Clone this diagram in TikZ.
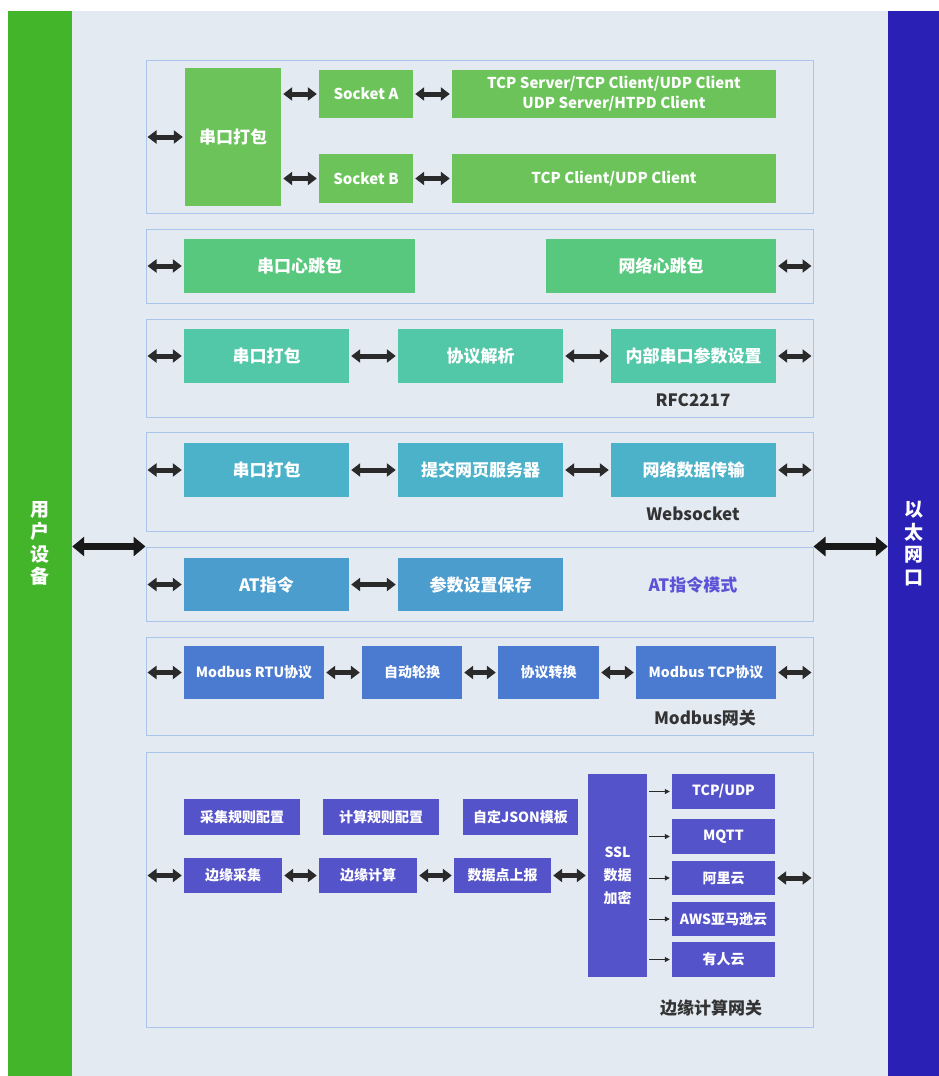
\documentclass[tikz,border=0pt]{standalone}
\usepackage{fontspec}
\setmainfont{Noto Sans CJK SC}
\usetikzlibrary{arrows.meta}
\definecolor{usergreen}{HTML}{43B52B}
\definecolor{ethblue}{HTML}{2A20B6}
\definecolor{panelbg}{HTML}{E4EAF2}
\definecolor{framec}{HTML}{AAC5EC}
\definecolor{arrowc}{HTML}{2A2A2A}
\definecolor{labelc}{HTML}{333333}
\definecolor{atmode}{HTML}{5B52D6}
\definecolor{socketc}{HTML}{6BC35A}
\definecolor{heartc}{HTML}{58C87E}
\definecolor{rfcc}{HTML}{52C8A8}
\definecolor{webc}{HTML}{4CB2C9}
\definecolor{atc}{HTML}{4B9DCE}
\definecolor{modc}{HTML}{4B7BD0}
\definecolor{edgec}{HTML}{5553C9}
\begin{document}
\begin{tikzpicture}[x=1pt,y=-1pt,
	frame/.style={draw=framec,line width=1pt,minimum width=667pt,inner sep=0pt},
	blk/.style={inner sep=0pt,text=white,font=\bfseries\fontsize{17}{20}\selectfont},
	smallblk/.style={blk,font=\bfseries\fontsize{14}{23}\selectfont},
	lbl/.style={text=labelc,font=\bfseries\fontsize{17}{20}\selectfont},
	dbl/.style={{Triangle[length=9pt,width=13pt]}-{Triangle[length=9pt,width=13pt]},line width=5pt,draw=arrowc,shorten >=2pt,shorten <=2pt},
	bigarr/.style={{Triangle[length=12pt,width=19pt]}-{Triangle[length=12pt,width=19pt]},line width=7pt,draw=black!90},
	sarr/.style={-{Triangle[length=5pt,width=5pt]},line width=1pt,draw=arrowc,shorten >=2pt,shorten <=2pt}]
	\useasboundingbox (0,0) rectangle (939,1076);
	\fill[white] (0,0) rectangle (939,1076);
	\fill[panelbg] (72,11) rectangle (888,1076);
	% side bars
	\node[fill=usergreen,minimum width=64pt,minimum height=1065pt,inner sep=0pt,text=white,align=center,font=\bfseries\fontsize{19}{22.5}\selectfont] (user) at (40,543.5) {用\\户\\设\\备};
	\node[fill=ethblue,minimum width=51pt,minimum height=1065pt,inner sep=0pt,text=white,align=center,font=\bfseries\fontsize{19}{22.5}\selectfont] (eth) at (913.5,543.5) {以\\太\\网\\口};
	% frames
	\node[frame,minimum height=153pt] (g1) at (479.5,136.5) {};
	\node[frame,minimum height=74pt] (g2) at (479.5,266) {};
	\node[frame,minimum height=98pt] (g3) at (479.5,368) {};
	\node[frame,minimum height=99pt] (g4) at (479.5,481.5) {};
	\node[frame,minimum height=74pt] (g5) at (479.5,584) {};
	\node[frame,minimum height=98pt] (g6) at (479.5,686) {};
	\node[frame,minimum height=275pt] (g7) at (479.5,889.5) {};
	% socket
	\node[blk,fill=socketc,minimum width=96pt,minimum height=138pt] (pack1) at (233,137) {串口打包};
	\node[blk,fill=socketc,minimum width=94pt,minimum height=48pt,font=\bfseries\fontsize{15}{20}\selectfont] (sockA) at (366,94) {Socket A};
	\node[blk,fill=socketc,minimum width=94pt,minimum height=49pt,font=\bfseries\fontsize{15}{20}\selectfont] (sockB) at (366,178.5) {Socket B};
	\node[blk,fill=socketc,minimum width=324pt,minimum height=48pt,align=center,font=\bfseries\fontsize{15}{20}\selectfont] (tcpA) at (614,94) {TCP Server/TCP Client/UDP Client\\UDP Server/HTPD Client};
	\node[blk,fill=socketc,minimum width=324pt,minimum height=49pt,font=\bfseries\fontsize{15}{20}\selectfont] (tcpB) at (614,178.5) {TCP Client/UDP Client};
	\draw[dbl] (g1.west |- pack1.west) -- (pack1.west);
	\draw[dbl] (pack1.east |- sockA.west) -- (sockA.west);
	\draw[dbl] (pack1.east |- sockB.west) -- (sockB.west);
	\draw[dbl] (sockA) -- (tcpA);
	\draw[dbl] (sockB) -- (tcpB);
	% heartbeat
	\node[blk,fill=heartc,minimum width=231pt,minimum height=54pt] (sheart) at (299.5,266) {串口心跳包};
	\node[blk,fill=heartc,minimum width=230pt,minimum height=54pt] (nheart) at (661,266) {网络心跳包};
	\draw[dbl] (g2.west |- sheart.west) -- (sheart.west);
	\draw[dbl] (nheart.east) -- (nheart.east -| g2.east);
	% rfc2217
	\node[blk,fill=rfcc,minimum width=165pt,minimum height=54pt] (pack3) at (266.5,356) {串口打包};
	\node[blk,fill=rfcc,minimum width=165pt,minimum height=54pt] (parse) at (480.5,356) {协议解析};
	\node[blk,fill=rfcc,minimum width=165pt,minimum height=54pt] (param) at (693.5,356) {内部串口参数设置};
	\node[lbl] (rfc) at (693,400) {RFC2217};
	\draw[dbl] (g3.west |- pack3.west) -- (pack3.west);
	\draw[dbl] (pack3) -- (parse);
	\draw[dbl] (parse) -- (param);
	\draw[dbl] (param.east) -- (param.east -| g3.east);
	% websocket
	\node[blk,fill=webc,minimum width=165pt,minimum height=54pt] (pack4) at (266.5,470) {串口打包};
	\node[blk,fill=webc,minimum width=165pt,minimum height=54pt] (websrv) at (480.5,470) {提交网页服务器};
	\node[blk,fill=webc,minimum width=165pt,minimum height=54pt] (netdata) at (693.5,470) {网络数据传输};
	\node[lbl] (ws) at (693,514) {Websocket};
	\draw[dbl] (g4.west |- pack4.west) -- (pack4.west);
	\draw[dbl] (pack4) -- (websrv);
	\draw[dbl] (websrv) -- (netdata);
	\draw[dbl] (netdata.east) -- (netdata.east -| g4.east);
	% AT
	\node[blk,fill=atc,minimum width=165pt,minimum height=53pt] (atcmd) at (266.5,584.5) {AT指令};
	\node[blk,fill=atc,minimum width=165pt,minimum height=53pt] (save) at (480.5,584.5) {参数设置保存};
	\node[lbl,text=atmode] (atlbl) at (693,585) {AT指令模式};
	\draw[dbl] (g5.west |- atcmd.west) -- (atcmd.west);
	\draw[dbl] (atcmd) -- (save);
	% modbus
	\node[blk,fill=modc,minimum width=140pt,minimum height=53pt,font=\bfseries\fontsize{14}{18}\selectfont] (rtu) at (254,672.5) {Modbus RTU协议};
	\node[blk,fill=modc,minimum width=100pt,minimum height=53pt,font=\bfseries\fontsize{14}{18}\selectfont] (poll) at (412,672.5) {自动轮换};
	\node[blk,fill=modc,minimum width=101pt,minimum height=53pt,font=\bfseries\fontsize{14}{18}\selectfont] (conv) at (548.5,672.5) {协议转换};
	\node[blk,fill=modc,minimum width=140pt,minimum height=53pt,font=\bfseries\fontsize{14}{18}\selectfont] (mtcp) at (706,672.5) {Modbus TCP协议};
	\node[lbl] (mod) at (705,718) {Modbus网关};
	\draw[dbl] (g6.west |- rtu.west) -- (rtu.west);
	\draw[dbl] (rtu) -- (poll);
	\draw[dbl] (poll) -- (conv);
	\draw[dbl] (conv) -- (mtcp);
	\draw[dbl] (mtcp.east) -- (mtcp.east -| g6.east);
	% edge gateway
	\node[smallblk,fill=edgec,minimum width=116pt,minimum height=36pt] (cfgA) at (242,817) {采集规则配置};
	\node[smallblk,fill=edgec,minimum width=116pt,minimum height=36pt] (cfgB) at (381,817) {计算规则配置};
	\node[smallblk,fill=edgec,minimum width=115pt,minimum height=36pt] (cfgC) at (520.5,817) {自定JSON模板};
	\node[smallblk,fill=edgec,minimum width=98pt,minimum height=35pt] (edgeA) at (233,875.5) {边缘采集};
	\node[smallblk,fill=edgec,minimum width=98pt,minimum height=35pt] (edgeB) at (368,875.5) {边缘计算};
	\node[smallblk,fill=edgec,minimum width=97pt,minimum height=35pt] (report) at (502.5,875.5) {数据点上报};
	\node[smallblk,fill=edgec,minimum width=59pt,minimum height=203pt,align=center] (ssl) at (617.5,875.5) {SSL\\数据\\加密};
	\node[smallblk,fill=edgec,minimum width=103pt,minimum height=35pt] (tcpudp) at (723.5,791.5) {TCP/UDP};
	\node[smallblk,fill=edgec,minimum width=103pt,minimum height=35pt] (mqtt) at (723.5,836.5) {MQTT};
	\node[smallblk,fill=edgec,minimum width=103pt,minimum height=34pt] (ali) at (723.5,878) {阿里云};
	\node[smallblk,fill=edgec,minimum width=103pt,minimum height=34pt] (aws) at (723.5,919) {AWS亚马逊云};
	\node[smallblk,fill=edgec,minimum width=103pt,minimum height=35pt] (usr) at (723.5,959.5) {有人云};
	\node[lbl] (edgelbl) at (711,1008) {边缘计算网关};
	\draw[dbl] (g7.west |- edgeA.west) -- (edgeA.west);
	\draw[dbl] (edgeA) -- (edgeB);
	\draw[dbl] (edgeB) -- (report);
	\draw[dbl] (report.east) -- (ssl.west |- report.east);
	\draw[dbl] (ali.east) -- (ali.east -| g7.east);
	\foreach \b in {tcpudp,mqtt,ali,aws,usr}
		\draw[sarr] (ssl.east |- \b.west) -- (\b.west);
	% user device and ethernet
	\draw[bigarr] (user.east |- g5.north west) -- (g5.north west);
	\draw[bigarr] (g5.north east) -- (g5.north east -| eth.west);
\end{tikzpicture}
\end{document}
